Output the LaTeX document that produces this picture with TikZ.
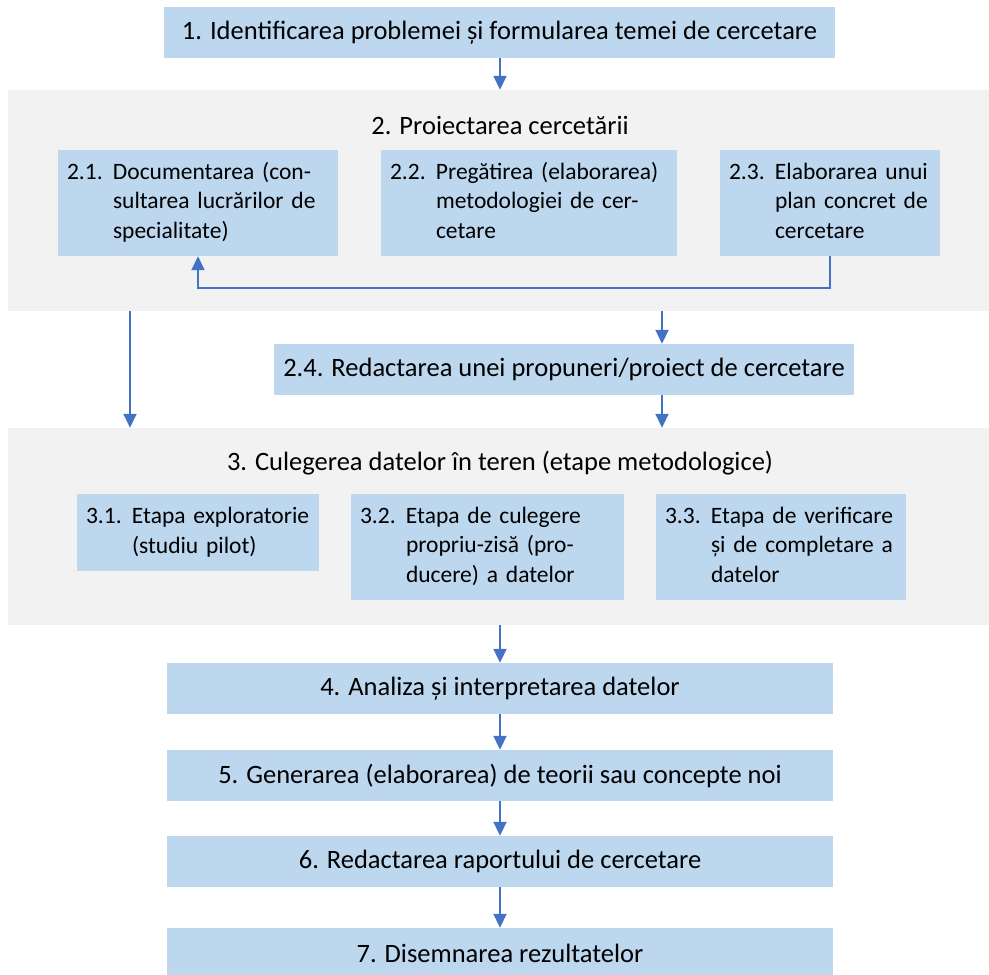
\documentclass[tikz,border=0pt]{standalone}
\usepackage{fontspec}
\setmainfont{Carlito}
\usetikzlibrary{arrows.meta}
\definecolor{boxblue}{HTML}{BDD7EE}
\definecolor{panelgray}{HTML}{F2F2F2}
\definecolor{arrowblue}{HTML}{4472C4}
\newcommand{\subtext}[2]{\begin{tabular}{@{}p{46pt}@{}l@{}}#1 & #2\end{tabular}}
\begin{document}
\begin{tikzpicture}[x=1pt,y=-1pt,
  every node/.style={font=\fontsize{26.5}{32}\selectfont},
  stage/.style={fill=boxblue, inner sep=0pt, minimum height=51pt},
  panel/.style={fill=panelgray, inner sep=0pt},
  subbox/.style={fill=boxblue, inner sep=0pt, align=left, font=\fontsize{23.5}{29.5}\selectfont},
  flow/.style={draw=arrowblue, line width=1.8pt, -{Triangle[length=14pt,width=13pt]}}]
\useasboundingbox (0,0) rectangle (989,975);

% stage 1
\node[stage, minimum width=671pt] (b1) at (499.5,32.5) {1. Identificarea problemei și formularea temei de cercetare};

% stage 2 panel
\node[panel, minimum width=981pt, minimum height=221pt] (p2) at (498.5,200.5) {};
\node (t2) at (500,125) {2. Proiectarea cercetării};
\node[subbox, minimum width=280pt, minimum height=106pt, text width=262pt] (b21) at (198,203)
  {\subtext{2.1.}{Documentarea (con-\\ & sultarea lucrărilor de\\ & specialitate)}};
\node[subbox, minimum width=296pt, minimum height=106pt, text width=278pt] (b22) at (529,203)
  {\subtext{2.2.}{Pregătirea (elaborarea)\\ & metodologiei de cer-\\ & cetare}};
\node[subbox, minimum width=220pt, minimum height=106pt, text width=202pt] (b23) at (830,203)
  {\subtext{2.3.}{Elaborarea unui\\ & plan concret de\\ & cercetare}};

\node[stage, minimum width=580pt] (b24) at (564,369.5) {2.4. Redactarea unei propuneri/proiect de cercetare};

% stage 3 panel
\node[panel, minimum width=981pt, minimum height=197pt] (p3) at (498.5,526.5) {};
\node (t3) at (500,463) {3. Culegerea datelor în teren (etape metodologice)};
\node[subbox, minimum width=242pt, minimum height=77pt, text width=224pt] (b31) at (198,532.5)
  {\subtext{3.1.}{Etapa exploratorie\\ & (studiu pilot)}};
\node[subbox, minimum width=273pt, minimum height=106pt, text width=255pt] (b32) at (487.5,547)
  {\subtext{3.2.}{Etapa de culegere\\ & propriu-zisă (pro-\\ & ducere) a datelor}};
\node[subbox, minimum width=250pt, minimum height=106pt, text width=232pt] (b33) at (781,547)
  {\subtext{3.3.}{Etapa de verificare\\ & și de completare a\\ & datelor}};

% stages 4-7
\node[stage, minimum width=666pt] (b4) at (500,688.5) {4. Analiza și interpretarea datelor};
\node[stage, minimum width=666pt] (b5) at (500,775.5) {5. Generarea (elaborarea) de teorii sau concepte noi};
\node[stage, minimum width=666pt] (b6) at (500,861.5) {6. Redactarea raportului de cercetare};
\node[stage, minimum width=666pt] (b7) at (500,953.5) {7. Disemnarea rezultatelor};

% connectors
\draw[flow] (b1.south -| 500,0) -- (p2.north -| 500,0);
\draw[flow] (b23.south) -- ++(0,32) -| (b21.south);
\draw[flow] (p2.south -| 130,0) -- (p3.north -| 130,0);
\draw[flow] (p2.south -| 662,0) -- (b24.north -| 662,0);
\draw[flow] (b24.south -| 662,0) -- (p3.north -| 662,0);
\draw[flow] (p3.south -| b4.north) -- (b4.north);
\draw[flow] (b4) -- (b5);
\draw[flow] (b5) -- (b6);
\draw[flow] (b6) -- (b7);
\end{tikzpicture}
\end{document}
